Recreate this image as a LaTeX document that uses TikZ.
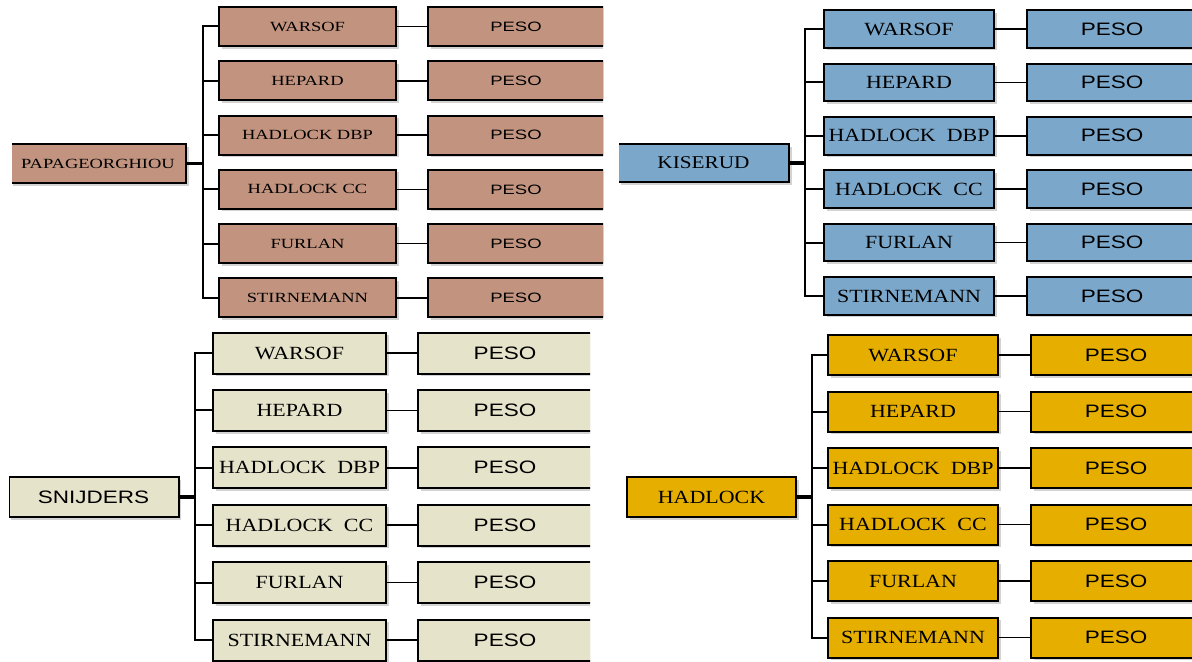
\documentclass[tikz,border=0pt]{standalone}
\usepackage{fontspec}
\setmainfont{Liberation Serif}
\newfontfamily\wideserif[FakeStretch=1.18]{Liberation Serif}
\newfontfamily\widesans[FakeStretch=1.25]{Liberation Sans}
\newfontfamily\roseserif[FakeStretch=1.32]{Liberation Serif}
\newfontfamily\rosesans[FakeStretch=1.36]{Liberation Sans}
\usetikzlibrary{positioning, shadows}

\definecolor{rosebox}{RGB}{194,148,128}
\definecolor{bluebox}{RGB}{123,167,203}
\definecolor{creambox}{RGB}{229,227,202}
\definecolor{goldbox}{RGB}{230,175,0}

\begin{document}
\begin{tikzpicture}[
  x=0.5pt, y=-0.5pt,
  box/.style={rectangle, draw, line width=1pt, inner sep=0pt, outer sep=0pt, align=center,
              drop shadow={shadow xshift=1.3pt, shadow yshift=-1.3pt, opacity=0.35}},
  rosename/.style={box, fill=rosebox, minimum width=88.5pt, minimum height=19.5pt,
                   font=\roseserif\fontsize{7}{8}\selectfont},
  rosepeso/.style={box, fill=rosebox, minimum width=88pt, minimum height=19.5pt,
                   font=\rosesans\fontsize{6.8}{8}\selectfont},
  bluename/.style={box, fill=bluebox, minimum width=85pt, minimum height=18.75pt,
                   font=\wideserif\fontsize{9.3}{10}\selectfont},
  bluepeso/.style={box, fill=bluebox, minimum width=85pt, minimum height=18.75pt,
                   font=\widesans\fontsize{9}{10}\selectfont},
  creamname/.style={box, fill=creambox, minimum width=86.5pt, minimum height=20.5pt,
                    font=\wideserif\fontsize{9.3}{10}\selectfont},
  creampeso/.style={box, fill=creambox, minimum width=87pt, minimum height=20.5pt,
                    font=\widesans\fontsize{9}{10}\selectfont},
  goldname/.style={box, fill=goldbox, minimum width=85pt, minimum height=20pt,
                   font=\wideserif\fontsize{9.3}{10}\selectfont},
  goldpeso/.style={box, fill=goldbox, minimum width=85pt, minimum height=20pt,
                   font=\widesans\fontsize{9}{10}\selectfont},
  link/.style={line width=0.8pt},
  trunk/.style={line width=1pt},
  stem/.style={line width=1.6pt},
]
  \useasboundingbox (0,0) rectangle (1192,662);

  % top left
  \begin{scope}[node distance=7.65pt and 16pt]
    \clip (12,0) rectangle (603,326);
    \node[rosename, minimum width=88pt] (pap) at (98,163.5) {PAPAGEORGHIOU};
    \node[rosename] (pwar) at (307.5,26.5) {WARSOF};
    \node[rosename, below=of pwar] (phep) {HEPARD};
    \node[rosename, below=of phep] (pdbp) {HADLOCK DBP};
    \node[rosename, below=of pdbp] (pcc) {HADLOCK CC};
    \node[rosename, below=of pcc] (pfur) {FURLAN};
    \node[rosename, below=of pfur] (pstir) {STIRNEMANN};
    \node[rosepeso, right=of pwar] (pwarp) {PESO};
    \node[rosepeso, right=of phep] (phepp) {PESO};
    \node[rosepeso, right=of pdbp] (pdbpp) {PESO};
    \node[rosepeso, right=of pcc] (pccp) {PESO};
    \node[rosepeso, right=of pfur] (pfurp) {PESO};
    \node[rosepeso, right=of pstir] (pstirp) {PESO};
    \coordinate (ptr) at (203,163.5);
    \draw[stem] (pap) -- (ptr);
    \draw[trunk] (pwar.west) -| (ptr);
    \draw[trunk] (pstir.west) -| (ptr);
    \draw[trunk] (phep.west) -- (phep.west -| ptr);
    \draw[trunk] (pdbp.west) -- (pdbp.west -| ptr);
    \draw[trunk] (pcc.west) -- (pcc.west -| ptr);
    \draw[trunk] (pfur.west) -- (pfur.west -| ptr);
    \draw[link] (pwar) -- (pwarp);
    \draw[link] (phep) -- (phepp);
    \draw[link] (pdbp) -- (pdbpp);
    \draw[link] (pcc) -- (pccp);
    \draw[link] (pfur) -- (pfurp);
    \draw[link] (pstir) -- (pstirp);
  \end{scope}

  % top right
  \begin{scope}[node distance=7.95pt and 16.5pt]
    \clip (619,0) rectangle (1192,326);
    \node[bluename, minimum width=85.5pt, minimum height=19pt, font=\wideserif\fontsize{9}{10}\selectfont] (kis) at (703.5,163) {KISERUD};
    \node[bluename] (kwar) at (909,29) {WARSOF};
    \node[bluename, below=of kwar] (khep) {HEPARD};
    \node[bluename, below=of khep] (kdbp) {HADLOCK~~DBP};
    \node[bluename, below=of kdbp] (kcc) {HADLOCK~~CC};
    \node[bluename, below=of kcc] (kfur) {FURLAN};
    \node[bluename, below=of kfur] (kstir) {STIRNEMANN};
    \node[bluepeso, right=of kwar] (kwarp) {PESO};
    \node[bluepeso, right=of khep] (khepp) {PESO};
    \node[bluepeso, right=of kdbp] (kdbpp) {PESO};
    \node[bluepeso, right=of kcc] (kccp) {PESO};
    \node[bluepeso, right=of kfur] (kfurp) {PESO};
    \node[bluepeso, right=of kstir] (kstirp) {PESO};
    \coordinate (ktr) at (805,163);
    \draw[stem] (kis) -- (ktr);
    \draw[trunk] (kwar.west) -| (ktr);
    \draw[trunk] (kstir.west) -| (ktr);
    \draw[trunk] (khep.west) -- (khep.west -| ktr);
    \draw[trunk] (kdbp.west) -- (kdbp.west -| ktr);
    \draw[trunk] (kcc.west) -- (kcc.west -| ktr);
    \draw[trunk] (kfur.west) -- (kfur.west -| ktr);
    \draw[link] (kwar) -- (kwarp);
    \draw[link] (khep) -- (khepp);
    \draw[link] (kdbp) -- (kdbpp);
    \draw[link] (kcc) -- (kccp);
    \draw[link] (kfur) -- (kfurp);
    \draw[link] (kstir) -- (kstirp);
  \end{scope}

  % bottom left
  \begin{scope}[node distance=8.2pt and 16pt]
    \clip (9,326) rectangle (590,662);
    \node[creamname, minimum width=85pt, minimum height=20pt, font=\widesans\fontsize{9}{10}\selectfont] (sni) at (93.5,497) {SNIJDERS};
    \node[creamname] (swar) at (299.5,353) {WARSOF};
    \node[creamname, below=of swar] (shep) {HEPARD};
    \node[creamname, below=of shep] (sdbp) {HADLOCK~~DBP};
    \node[creamname, below=of sdbp] (scc) {HADLOCK~~CC};
    \node[creamname, below=of scc] (sfur) {FURLAN};
    \node[creamname, below=of sfur] (sstir) {STIRNEMANN};
    \node[creampeso, right=of swar] (swarp) {PESO};
    \node[creampeso, right=of shep] (shepp) {PESO};
    \node[creampeso, right=of sdbp] (sdbpp) {PESO};
    \node[creampeso, right=of scc] (sccp) {PESO};
    \node[creampeso, right=of sfur] (sfurp) {PESO};
    \node[creampeso, right=of sstir] (sstirp) {PESO};
    \coordinate (str) at (195,497);
    \draw[stem] (sni) -- (str);
    \draw[trunk] (swar.west) -| (str);
    \draw[trunk] (sstir.west) -| (str);
    \draw[trunk] (shep.west) -- (shep.west -| str);
    \draw[trunk] (sdbp.west) -- (sdbp.west -| str);
    \draw[trunk] (scc.west) -- (scc.west -| str);
    \draw[trunk] (sfur.west) -- (sfur.west -| str);
    \draw[link] (swar) -- (swarp);
    \draw[link] (shep) -- (shepp);
    \draw[link] (sdbp) -- (sdbpp);
    \draw[link] (scc) -- (sccp);
    \draw[link] (sfur) -- (sfurp);
    \draw[link] (sstir) -- (sstirp);
  \end{scope}

  % bottom right
  \begin{scope}[node distance=8.25pt and 16.5pt]
    \clip (620,326) rectangle (1192,662);
    \node[goldname, minimum width=84.5pt] (had) at (711.5,497) {HADLOCK};
    \node[goldname] (hwar) at (913,355) {WARSOF};
    \node[goldname, below=of hwar] (hhep) {HEPARD};
    \node[goldname, below=of hhep] (hdbp) {HADLOCK~~DBP};
    \node[goldname, below=of hdbp] (hcc) {HADLOCK~~CC};
    \node[goldname, below=of hcc] (hfur) {FURLAN};
    \node[goldname, below=of hfur] (hstir) {STIRNEMANN};
    \node[goldpeso, right=of hwar] (hwarp) {PESO};
    \node[goldpeso, right=of hhep] (hhepp) {PESO};
    \node[goldpeso, right=of hdbp] (hdbpp) {PESO};
    \node[goldpeso, right=of hcc] (hccp) {PESO};
    \node[goldpeso, right=of hfur] (hfurp) {PESO};
    \node[goldpeso, right=of hstir] (hstirp) {PESO};
    \coordinate (htr) at (812,497);
    \draw[stem] (had) -- (htr);
    \draw[trunk] (hwar.west) -| (htr);
    \draw[trunk] (hstir.west) -| (htr);
    \draw[trunk] (hhep.west) -- (hhep.west -| htr);
    \draw[trunk] (hdbp.west) -- (hdbp.west -| htr);
    \draw[trunk] (hcc.west) -- (hcc.west -| htr);
    \draw[trunk] (hfur.west) -- (hfur.west -| htr);
    \draw[link] (hwar) -- (hwarp);
    \draw[link] (hhep) -- (hhepp);
    \draw[link] (hdbp) -- (hdbpp);
    \draw[link] (hcc) -- (hccp);
    \draw[link] (hfur) -- (hfurp);
    \draw[link] (hstir) -- (hstirp);
  \end{scope}
\end{tikzpicture}
\end{document}
